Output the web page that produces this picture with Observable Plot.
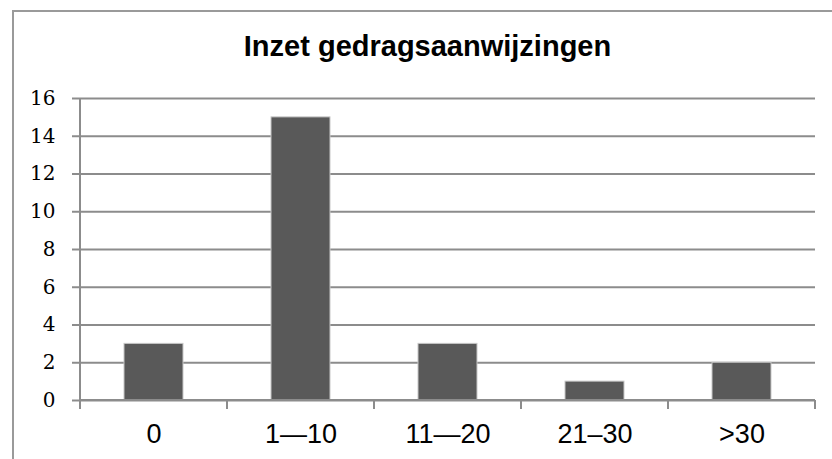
<!DOCTYPE html>
<html>
<head>
<meta charset="utf-8">
<script src="https://cdn.jsdelivr.net/npm/d3@7"></script>
<script src="https://cdn.jsdelivr.net/npm/@observablehq/plot@0.6"></script>
<style>
  html, body { margin: 0; padding: 0; background: #fff; overflow: hidden; }
  #wrap { position: relative; width: 832px; height: 459px; }
  #frame { position: absolute; left: 12px; top: 10px; width: 900px; height: 500px;
           border-top: 2px solid #9a9a9a; border-left: 2px solid #9a9a9a; box-sizing: border-box; }
  #title { position: absolute; left: 0; top: 32px; width: 855px; text-align: center;
           font: bold 29px/29px "Liberation Sans", Arial, sans-serif; color: #000; }
  #chart { position: absolute; left: 0; top: 0; }
</style>
</head>
<body>
<div id="wrap">
  <div id="frame"></div>
  <div id="chart"></div>
  <div id="title">Inzet gedragsaanwijzingen</div>
</div>
<script>
const categories = ["0", "1\u201410", "11\u201420", "21\u201330", ">30"];
const values = [3, 15, 3, 1, 2];
const yTicks = [0, 2, 4, 6, 8, 10, 12, 14, 16];
const titleText = "Inzet gedragsaanwijzingen";

const data = categories.map((c, i) => ({category: c, value: values[i]}));
const gray = "#8c8c8c";

// axis lines and band-boundary ticks, drawn from the plot's own scales
function axisLines(index, scales, values, dims) {
  const x0 = dims.marginLeft, x1 = dims.width - dims.marginRight;
  const y0 = scales.y(0), yTop = scales.y(d3.max(yTicks));
  const b = d3.scaleLinear([0, categories.length], [x0, x1]);
  const g = d3.create("svg:g").attr("stroke", gray).attr("stroke-width", 2).attr("fill", "none");
  g.append("line").attr("x1", x0).attr("x2", x0).attr("y1", yTop).attr("y2", y0 + 9);
  g.append("line").attr("x1", x0).attr("x2", x1).attr("y1", y0).attr("y2", y0);
  d3.range(categories.length + 1).forEach(i => {
    g.append("line").attr("x1", b(i)).attr("x2", b(i)).attr("y1", y0).attr("y2", y0 + 9);
  });
  return g.node();
}

const chart = Plot.plot({
  width: 832,
  height: 459,
  marginLeft: 80,
  marginRight: 17,
  marginTop: 98,
  marginBottom: 59,
  style: {background: "transparent", color: "#000"},
  x: {domain: categories, paddingInner: 0.6, paddingOuter: 0.3},
  y: {domain: [0, 16]},
  marks: [
    Plot.gridY(yTicks, {stroke: gray, strokeOpacity: 1, strokeWidth: 2}),
    Plot.barY(data, {x: "category", y: "value", fill: "#595959", stroke: "#c8c8c8", strokeWidth: 1}),
    axisLines,
    Plot.axisY(yTicks, {tickSize: 8, tickPadding: 17, stroke: gray, strokeWidth: 2, fill: "#000",
      fontSize: 20, fontFamily: "DejaVu Serif", label: null}),
    Plot.axisX({tickSize: 0, tickPadding: 23, fill: "#000", fontSize: 27,
      fontFamily: "Liberation Sans, Arial, sans-serif", label: null})
  ]
});
document.getElementById("chart").appendChild(chart);
</script>
</body>
</html>
